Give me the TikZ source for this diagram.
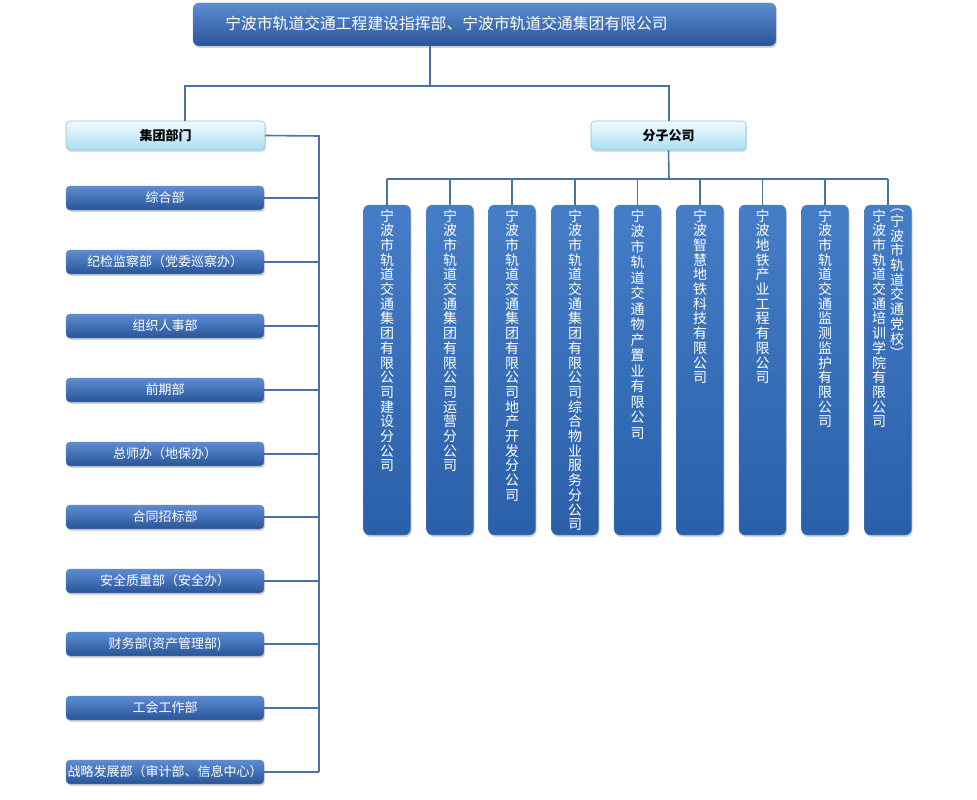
\documentclass[tikz,border=0pt]{standalone}
\usepackage{fontspec}
\setmainfont{Noto Sans CJK SC}
\usetikzlibrary{shadows}
\definecolor{ln}{HTML}{4A72A8}
\definecolor{bt}{HTML}{5B8DD3}
\definecolor{bb}{HTML}{2A5597}
\definecolor{ct}{HTML}{457DC6}
\definecolor{cb}{HTML}{2A60AA}
\definecolor{lt}{HTML}{F2FBFE}
\definecolor{lb}{HTML}{A9DFF0}
\definecolor{lbd}{HTML}{8CC6DC}
\begin{document}
\begin{tikzpicture}[x=1pt,y=-1pt,
  conn/.style={draw=ln, line width=1.6pt},
  darkbox/.style={rounded corners=4pt, top color=bt, bottom color=bb, draw=bb!70!white, line width=0.4pt,
    text=white, inner sep=0pt, drop shadow={shadow xshift=1pt, shadow yshift=-2pt, opacity=0.3}},
  lightbox/.style={rounded corners=4pt, top color=lt, bottom color=lb, draw=lbd, line width=0.6pt,
    text=black, inner sep=0pt, font=\fontsize{13pt}{15pt}\selectfont\bfseries,
    drop shadow={shadow xshift=1pt, shadow yshift=-2pt, opacity=0.25}},
  dept/.style={darkbox, minimum width=198pt, minimum height=24pt, font=\fontsize{13pt}{15pt}\selectfont},
  colbox/.style={darkbox, top color=ct, bottom color=cb, draw=cb!80!white, rounded corners=6pt, minimum width=47pt, minimum height=330pt},
  coltext/.style={text=white, inner sep=0pt, align=center, anchor=north, font=\fontsize{14pt}{14.7pt}\selectfont}
]
\useasboundingbox[fill=white] (0,0) rectangle (977,800);

% top
\node[darkbox, rounded corners=6pt, minimum width=583pt, minimum height=43pt] (top) at (484.5,24.5) {};
\node[text=white, inner sep=0pt, font=\fontsize{15.8pt}{18pt}\selectfont] (toptext) at (446.5,23) {宁波市轨道交通工程建设指挥部、宁波市轨道交通集团有限公司};

\node[lightbox, minimum width=199pt, minimum height=29pt] (jt) at (165.5,135.5) {集团部门};
\node[lightbox, minimum width=155pt, minimum height=29pt] (fz) at (668.5,135.5) {分子公司};

\coordinate (tj) at (430,86);
\coordinate (b1) at (185,86);
\coordinate (b2) at (669,86);
\draw[conn] (top.south -| tj) -- (tj);
\draw[conn] (b1 |- jt.north) -- (b1) -- (b2) -- (b2 |- fz.north);

% departments
\node[dept] (d1) at (165,198) {综合部};
\node[dept] (d2) at (165,262) {纪检监察部（党委巡察办）};
\node[dept] (d3) at (165,326) {组织人事部};
\node[dept] (d4) at (165,390) {前期部};
\node[dept] (d5) at (165,454) {总师办（地保办）};
\node[dept] (d6) at (165,517) {合同招标部};
\node[dept] (d7) at (165,581) {安全质量部（安全办）};
\node[dept] (d8) at (165,644) {财务部(资产管理部)};
\node[dept] (d9) at (165,708) {工会工作部};
\node[dept] (d10) at (165,772) {战略发展部（审计部、信息中心）};

\coordinate (lbus) at (319,136);
\draw[conn] (jt.east) -- (lbus) -- (lbus |- d10.east);
\foreach \i in {1,...,10} {\draw[conn] (d\i.east) -- (lbus |- d\i.east);}

% companies
\foreach \i/\x in {1/387,2/450,3/512,4/575,5/637.5,6/700,7/762.5,8/825,9/888}
  {\node[colbox] (c\i) at (\x,370) {};}

\coordinate (rbus) at (669,179);
\draw[conn] (fz.south) -- (rbus);
\draw[conn] (c1.north |- rbus) -- (c9.north |- rbus);
\foreach \i in {1,...,9} {\draw[conn] (c\i.north) -- (c\i.north |- rbus);}

\node[coltext] (t1) at (387,209) {宁\\波\\市\\轨\\道\\交\\通\\集\\团\\有\\限\\公\\司\\建\\设\\分\\公\\司};
\node[coltext] (t2) at (450,209) {宁\\波\\市\\轨\\道\\交\\通\\集\\团\\有\\限\\公\\司\\运\\营\\分\\公\\司};
\node[coltext] (t3) at (512,209) {宁\\波\\市\\轨\\道\\交\\通\\集\\团\\有\\限\\公\\司\\地\\产\\开\\发\\分\\公\\司};
\node[coltext] (t4) at (575,209) {宁\\波\\市\\轨\\道\\交\\通\\集\\团\\有\\限\\公\\司\\综\\合\\物\\业\\服\\务\\分\\公\\司};
\node[coltext, font=\fontsize{14pt}{15.5pt}\selectfont] (t5) at (637.5,209) {宁\\波\\市\\轨\\道\\交\\通\\物\\产\\置\\业\\有\\限\\公\\司};
\node[coltext] (t6) at (700,209) {宁\\波\\智\\慧\\地\\铁\\科\\技\\有\\限\\公\\司};
\node[coltext] (t7) at (762.5,209) {宁\\波\\地\\铁\\产\\业\\工\\程\\有\\限\\公\\司};
\node[coltext] (t8) at (825,209) {宁\\波\\市\\轨\\道\\交\\通\\监\\测\\监\\护\\有\\限\\公\\司};
\node[coltext] (t9a) at (879,209) {宁\\波\\市\\轨\\道\\交\\通\\培\\训\\学\\院\\有\\限\\公\\司};
\node[coltext] (t9b) at (897,209) {︵\\宁\\波\\市\\轨\\道\\交\\通\\党\\校\\︶};
\end{tikzpicture}
\end{document}
